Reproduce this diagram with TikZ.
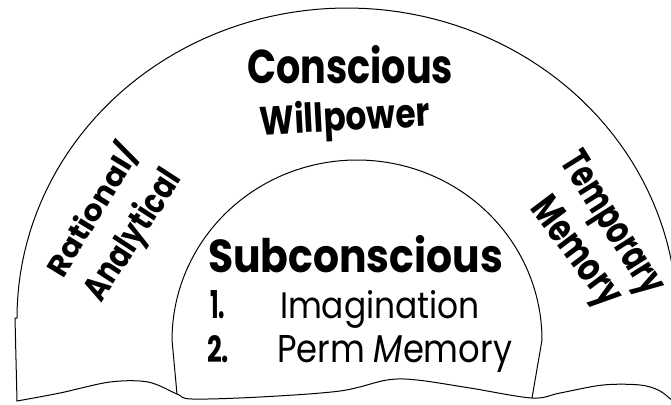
\documentclass[tikz,border=0pt]{standalone}
\usepackage{fontspec}
\setmainfont{Poppins}
\newcommand\fitb[3]{\resizebox{#1pt}{#2pt}{\bfseries #3}}
\newcommand\fitr[3]{\resizebox{#1pt}{#2pt}{#3}}
\begin{document}
\begin{tikzpicture}[x=1pt,y=-1pt,line width=1pt,line join=round,line cap=round,
  lbl/.style={inner sep=0pt,outer sep=0pt}]
\useasboundingbox (0,0) rectangle (671,404);
\clip (0,0) rectangle (671,404);
% outer arch
\draw (17,401) -- (15,318) -- plot[domain=180:0,samples=90] ({347+330*cos(\x)},{318-310*sin(\x)}) -- (676,404);
% inner arch
\draw (177,394) -- (172,340) -- plot[domain=180:0,samples=90] ({357+185*cos(\x)},{340-180*sin(\x)}) -- (532,398);
% wavy bottom
\draw plot[smooth,tension=0.55] coordinates {(17,401) (60,393) (110,382) (148,382) (177,394) (192,399) (260,397) (340,391) (387,380) (417,380) (470,388) (532,398) (560,393) (603,385) (640,385) (660,391) (676,404)};
% texts
\node[lbl,anchor=base west] (con) at (247,83) {\fitb{206}{38}{Conscious}};
\node[lbl,rotate=3] (will) at (345,120) {\fitb{170}{32}{Willpower}};
\node[lbl,anchor=base west] (sub) at (208,272) {\fitb{295}{37}{Subconscious}};
\node[lbl,anchor=base west] (n1) at (210,318) {\fitr{15}{28}{\bfseries 1.}};
\node[lbl,anchor=base west] (ima) at (280,318) {\fitr{200}{28}{Imagination}};
\node[lbl,anchor=base west] (n2) at (207,362) {\fitr{22}{27}{\bfseries 2.}};
\node[lbl,anchor=base west] (perm) at (277,362) {\fitr{235}{27}{Perm {\itshape M}emory}};
\node[lbl,rotate=58.6] (rat) at (92,210) {\fitb{148}{28}{Rational/}};
\node[lbl,rotate=57] (ana) at (134,236) {\fitb{148}{28}{Analytical}};
\node[lbl,rotate=-57.7] (tem) at (610,225) {\fitb{161}{28}{Temporary}};
\node[lbl,rotate=-53] (mem) at (574,254) {\fitb{126}{28}{Memory}};
\end{tikzpicture}
\end{document}
